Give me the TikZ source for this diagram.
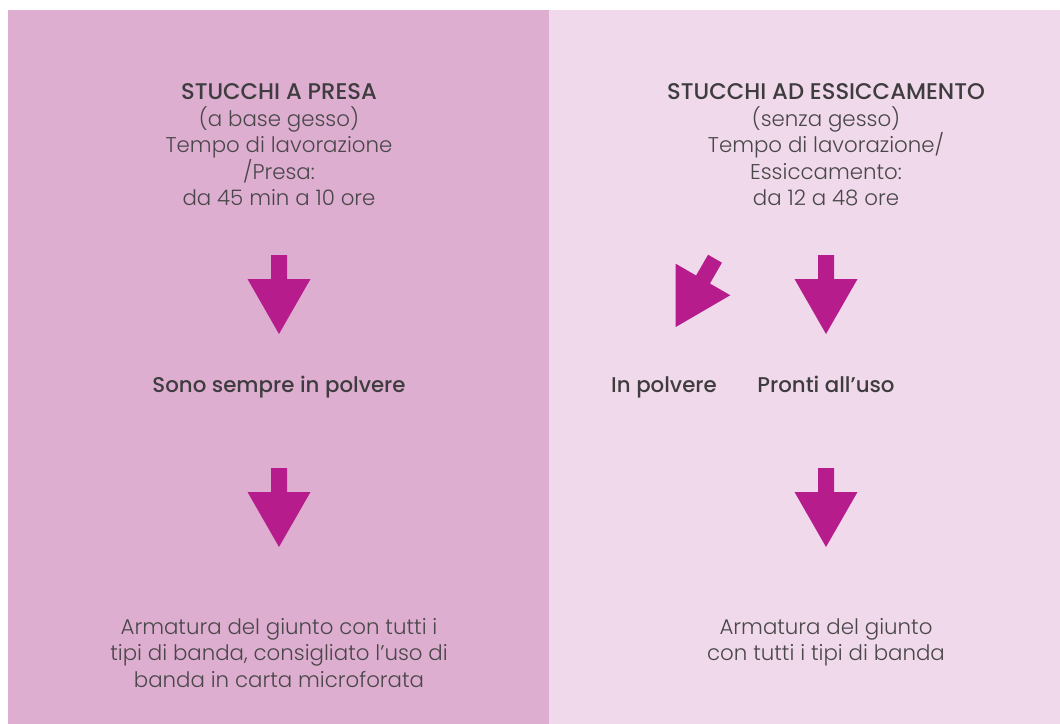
\documentclass[tikz,border=0pt]{standalone}
\usepackage{fontspec}
\setmainfont{Poppins Light}[BoldFont={Poppins Medium}]
\definecolor{panelA}{HTML}{DEAED0}
\definecolor{panelB}{HTML}{F0D9EA}
\definecolor{arrowc}{HTML}{B71C8C}
\definecolor{txt}{HTML}{4A474A}
\definecolor{txtdark}{HTML}{3E3C3E}
\tikzset{
  bodytext/.style={inner sep=0pt, text=txt, align=center, font=\fontsize{16}{19.875}\selectfont},
  labeltext/.style={inner sep=0pt, text=txtdark, anchor=base, font=\bfseries\fontsize{16}{19.875}\selectfont},
  downarrow/.pic={
    \fill[arrowc] (-8,-24) -- (8,-24) -- (8,0) -- (31.5,0) -- (0,55) -- (-31.5,0) -- (-8,0) -- cycle;
  }
}
\newcommand{\firststrut}{\rule{0pt}{15pt}}
\newcommand{\headfont}{\color{txtdark}\bfseries\fontsize{17}{19.875}\selectfont}
\begin{document}
\begin{tikzpicture}[x=0.75pt,y=-0.75pt]
\useasboundingbox (0,0) rectangle (1060,724);
\fill[white] (0,0) rectangle (1060,724);
\fill[panelA] (8,10) rectangle (549,724);
\fill[panelB] (549,10) rectangle (1060,724);
% headings
\node[bodytext, anchor=north] (headA) at (279,79.5) {\firststrut{\headfont STUCCHI A PRESA}\\(a base gesso)\\Tempo di lavorazione\\/Presa:\\da 45 min a 10 ore};
\node[bodytext, anchor=north] (headB) at (826,79.5) {\firststrut{\headfont STUCCHI AD ESSICCAMENTO}\\(senza gesso)\\Tempo di lavorazione/\\Essiccamento:\\da 12 a 48 ore};
% arrows
\pic at (279,279) {downarrow};
\pic at (826,279) {downarrow};
\pic[rotate=-30] at (703,279.5) {downarrow};
\pic at (279,492) {downarrow};
\pic at (826,492) {downarrow};
% middle labels
\node[labeltext] (midA) at (279,392) {Sono sempre in polvere};
\node[labeltext] (midB) at (664,392) {In polvere};
\node[labeltext] (midC) at (826,392) {Pronti all’uso};
% bottom texts
\node[bodytext, anchor=north] (botA) at (279,614) {\firststrut Armatura del giunto con tutti i\\tipi di banda, consigliato l’uso di\\banda in carta microforata};
\node[bodytext, anchor=north] (botB) at (826,614) {\firststrut Armatura del giunto\\con tutti i tipi di banda};
\end{tikzpicture}
\end{document}
